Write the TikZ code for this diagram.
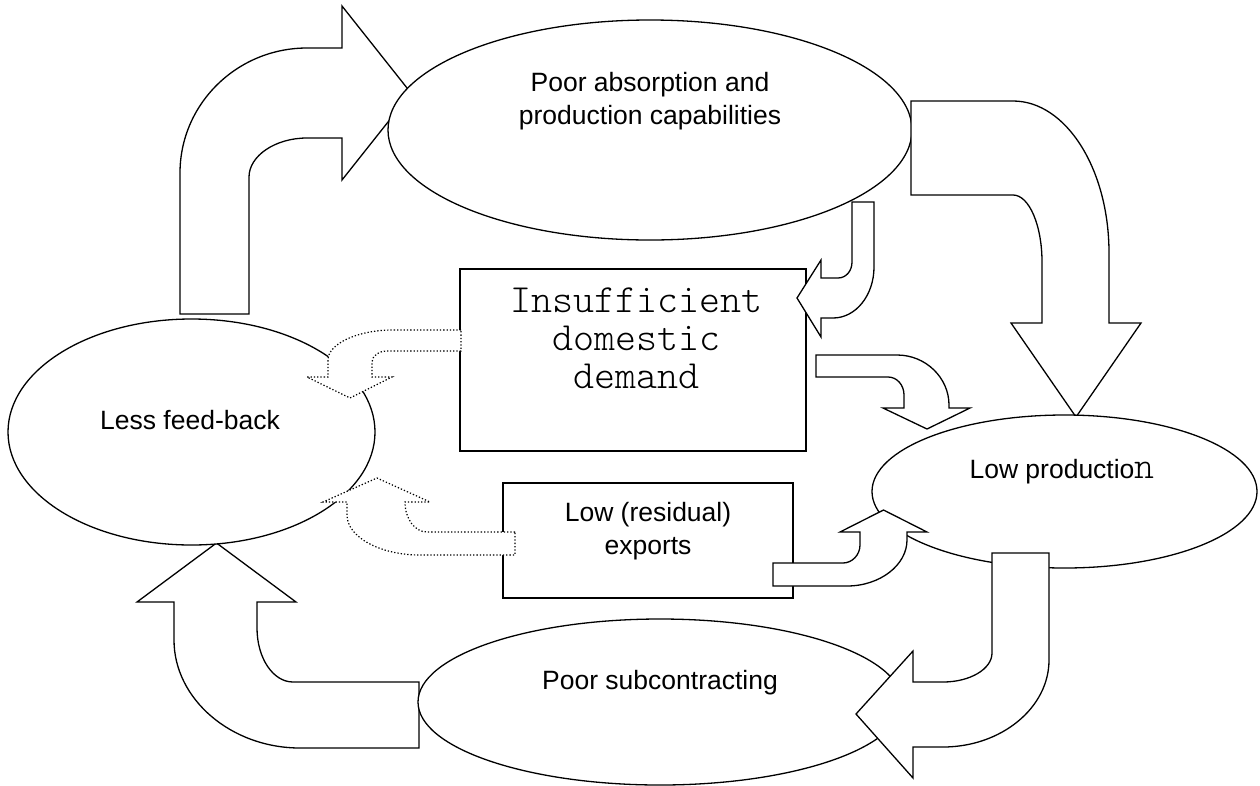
\documentclass[tikz,border=0pt]{standalone}
\usepackage{fontspec}
\setmainfont{Liberation Sans}
\newfontfamily\courierfont{Latin Modern Mono Light}
\usetikzlibrary{shapes.geometric}
\begin{document}
\begin{tikzpicture}[x=1pt, y=-1pt,
    bubble/.style={ellipse, draw, fill=white, line width=1.3pt, inner sep=0pt},
    panel/.style={rectangle, draw, fill=white, line width=1.3pt, inner sep=0pt},
    blockarrow/.style={draw, fill=white, line width=1.3pt, line join=miter},
    dotarrow/.style={draw, fill=white, line width=1.2pt, dash pattern=on 1.3pt off 2pt},
    txt/.style={font=\fontsize{26.5}{32.5}\selectfont, align=center},
    mono/.style={font=\courierfont\fontsize{40}{38}\selectfont, align=center}]
    % pixel grid: x to the right, y downwards
    \useasboundingbox (0,0) rectangle (1260,785);

    % ===== big arrow: feed-back -> absorption (behind the top ellipse) =====
    \draw[blockarrow] (180,314) -- (180,173)
      .. controls (180,104) and (237,48) .. (307,48) -- (342,48) -- (342,6)
      -- (411,93) -- (342,180) -- (342,138) -- (307,138)
      .. controls (275,138) and (249,156) .. (249,177) -- (249,314) -- cycle;

    % ===== top ellipse =====
    \node[bubble, minimum width=524pt, minimum height=220pt] (absorb) at (650,130) {};
    \node[txt] (absorbtxt) at (650,101) {Poor absorption and\\production capabilities};

    % ===== big arrow: absorption -> low production =====
    \draw[blockarrow] (911,101) -- (1013,101)
      .. controls (1066,101) and (1109,169) .. (1109,253) -- (1109,323) -- (1141,323)
      -- (1076,417) -- (1011,323) -- (1042,323) -- (1042,262)
      .. controls (1042,225) and (1029,195) .. (1013,195) -- (911,195) -- cycle;

    % ===== big arrow: subcontracting -> feed-back =====
    \draw[blockarrow] (419,682) -- (293,682)
      .. controls (273,682) and (257,658) .. (257,628) -- (257,602) -- (296,602)
      -- (216.5,543) -- (137,602) -- (174,602) -- (174,640)
      .. controls (174,699) and (231,748) .. (300,748) -- (419,748) -- cycle;

    % ===== other ellipses =====
    \node[bubble, minimum width=367pt, minimum height=226pt] (feedback) at (191.5,432) {};
    \node[txt] (feedbacktxt) at (190,420) {Less feed-back};

    \node[bubble, minimum width=385pt, minimum height=153pt] (lowprod) at (1064.5,491.5) {};
    \node[txt] (lowprodtxt) at (1062,472) {Low productio{\courierfont\fontsize{38}{38}\selectfont n}};

    \node[bubble, minimum width=484pt, minimum height=166pt] (subcon) at (660,702) {};
    \node[txt] (subcontxt) at (660,683) {Poor subcontracting};

    % ===== boxes =====
    \node[panel, minimum width=346pt, minimum height=182pt] (demand) at (633,360) {};
    \node[mono] (demandtxt) at (636,338) {Insufficient\\domestic\\demand};

    \node[panel, minimum width=290pt, minimum height=115pt] (exports) at (648,540.5) {};
    \node[txt] (exportstxt) at (648,531) {Low (residual)\\exports};

    % ===== small arrows (drawn on top) =====
    % absorption -> demand
    \draw[blockarrow] (852,202) -- (874,202) -- (874,267)
      .. controls (874,295) and (856,318) .. (833,318) -- (821,318) -- (821,337)
      -- (797,298) -- (821,260) -- (821,278) -- (838,278)
      .. controls (846,278) and (852,271) .. (852,262) -- cycle;

    % demand -> low production
    \draw[blockarrow] (816,355) -- (897,355)
      .. controls (926,355) and (949,378) .. (949,405) -- (949,408) -- (970,408)
      -- (927,429) -- (883,408) -- (904,408) -- (904,395)
      .. controls (904,385) and (897,377) .. (888,377) -- (816,377) -- cycle;

    % low production -> subcontracting
    \draw[blockarrow] (992,553) -- (1049,553) -- (1049,660)
      .. controls (1049,708) and (1001,747) .. (943,747) -- (913,747) -- (913,778)
      -- (856,714) -- (913,651) -- (913,682) -- (943,682)
      .. controls (970,682) and (992,669) .. (992,653) -- cycle;

    % exports -> low production
    \draw[blockarrow] (773,563) -- (843,563)
      .. controls (852,563) and (860,555) .. (860,545) -- (860,532) -- (840,532)
      -- (883.5,510) -- (927,532) -- (907,532) -- (907,540)
      .. controls (907,565) and (880,586) .. (847,586) -- (773,586) -- cycle;

    % dotted: demand -> feed-back
    \draw[dotarrow] (461,330) -- (393,330)
      .. controls (357,330) and (328,344) .. (328,360) -- (328,377) -- (307,377)
      -- (350,398) -- (392,377) -- (372,377) -- (372,362)
      .. controls (372,356) and (379,351) .. (387,351) -- (461,351) -- cycle;

    % dotted: exports -> feed-back
    \draw[dotarrow] (515,532) -- (427,532)
      .. controls (415,532) and (405,519) .. (405,502) -- (430,502)
      -- (377,478) -- (323,502) -- (347,502) -- (347,515)
      .. controls (347,537) and (380,555) .. (420,555) -- (515,555) -- cycle;

\end{tikzpicture}
\end{document}
